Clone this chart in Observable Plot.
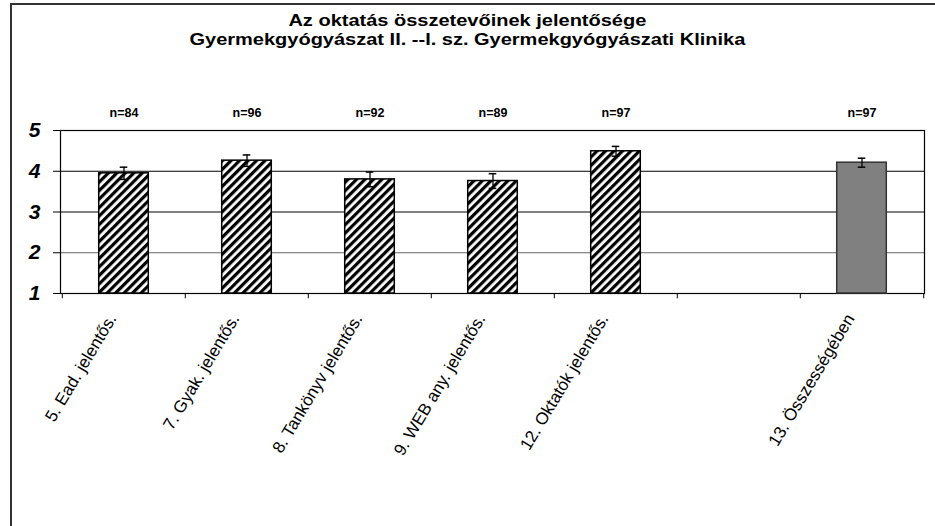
<!DOCTYPE html>
<html>
<head>
<meta charset="utf-8">
<script src="https://cdn.jsdelivr.net/npm/d3@7"></script>
<script src="https://cdn.jsdelivr.net/npm/@observablehq/plot@0.6"></script>
<style>
  html, body { margin: 0; padding: 0; background: #fff; overflow: hidden; }
  #wrap { position: relative; width: 935px; height: 526px; font-family: Arial, "Liberation Sans", sans-serif; }
  #frame { position: absolute; left: 10px; top: 3px; right: -5px; bottom: -5px; border-left: 2px solid #333; border-top: 2px solid #333; }
  #title { position: absolute; left: 0; width: 935px; top: 11px; text-align: center; font-weight: bold; font-size: 16px; line-height: 19px; color: #000; transform: scaleX(1.25); transform-origin: 468px 0; }
  #chart { position: absolute; left: 0; top: 50px; }
</style>
</head>
<body>
<div id="wrap">
  <div id="frame"></div>
  <div id="title">Az oktatás összetevőinek jelentősége<br>Gyermekgyógyászat II. --I. sz. Gyermekgyógyászati Klinika</div>
  <div id="chart"></div>
</div>
<script>
const categories = ["5. Ead. jelentős.", "7. Gyak. jelentős.", "8. Tankönyv jelentős.", "9. WEB any. jelentős.", "12. Oktatók jelentős.", "", "13. Összességében"];
const barCategories = ["5. Ead. jelentős.", "7. Gyak. jelentős.", "8. Tankönyv jelentős.", "9. WEB any. jelentős.", "12. Oktatók jelentős.", "13. Összességében"];
const values = [3.95, 4.26, 3.80, 3.76, 4.49, 4.21];
const errors = [0.15, 0.14, 0.18, 0.18, 0.12, 0.11];
const nLabels = ["n=84", "n=96", "n=92", "n=89", "n=97", "n=97"];
const styles = ["hatch", "hatch", "hatch", "hatch", "hatch", "solid"];
const yTicks = [1, 2, 3, 4, 5];
const gridValues = [2, 3, 4];

const data = barCategories.map((c, i) => ({cat: c, v: values[i], e: errors[i], n: nLabels[i], s: styles[i]}));

const W = 935, H = 476, ML = 60, MR = 11;
const step = (W - ML - MR) / categories.length;
const barW = 50;
const inset = (step - barW) / 2;
const capInset = (step - 8) / 2;

const plot = Plot.plot({
  width: W,
  height: H,
  marginLeft: ML,
  marginRight: MR,
  marginTop: 80,
  marginBottom: 233,
  style: {background: "transparent", fontFamily: "Arial, 'Liberation Sans', sans-serif", color: "#000"},
  x: {domain: categories, padding: 0, axis: null},
  y: {domain: [1, 5], axis: null},
  marks: [
    Plot.ruleY(gridValues, {stroke: d => d === 2 ? "#666" : "#000", strokeWidth: 1}),
    Plot.frame({stroke: "#000", strokeWidth: 1.2}),
    Plot.ruleX(categories, {x: d => d, dx: -step / 2, y1: 1, y2: 0.87, stroke: "#000"}),
    Plot.ruleX(categories.slice(-1), {x: d => d, dx: step / 2, y1: 1, y2: 0.87, stroke: "#000"}),
    Plot.axisY({ticks: yTicks, tickFormat: d => String(d), label: null, tickSize: 7, tickPadding: 13, fontSize: 21, fontWeight: "bold", fontStyle: "italic", stroke: "#000"}),
    Plot.barY(data.filter(d => d.s === "hatch"), {x: "cat", y1: 1, y2: "v", fill: "url(#hatch)", stroke: "#000", strokeWidth: 1.5, insetLeft: inset, insetRight: inset}),
    Plot.barY(data.filter(d => d.s === "solid"), {x: "cat", y1: 1, y2: "v", fill: "#808080", stroke: "#333", strokeWidth: 1.5, insetLeft: inset, insetRight: inset}),
    Plot.ruleX(data, {x: "cat", y1: d => d.v - d.e, y2: d => d.v + d.e, stroke: "#000", strokeWidth: 1.3}),
    Plot.tickY(data, {x: "cat", y: d => d.v + d.e, stroke: "#000", strokeWidth: 1.5, insetLeft: capInset, insetRight: capInset}),
    Plot.tickY(data, {x: "cat", y: d => d.v - d.e, stroke: "#000", strokeWidth: 1.5, insetLeft: capInset, insetRight: capInset}),
    Plot.text(data, {x: "cat", y: 5, dy: -18, text: "n", fontSize: 12.5, fontWeight: "bold", fill: "#000"}),
    Plot.text(data, {x: "cat", frameAnchor: "bottom", dy: 25, dx: -7, rotate: -59, textAnchor: "end", text: "cat", fontSize: 17, fill: "#000"})
  ]
});

const ns = "http://www.w3.org/2000/svg";
const defs = document.createElementNS(ns, "defs");
const pat = document.createElementNS(ns, "pattern");
pat.setAttribute("id", "hatch");
pat.setAttribute("patternUnits", "userSpaceOnUse");
pat.setAttribute("width", "6");
pat.setAttribute("height", "6");
pat.setAttribute("patternTransform", "rotate(45)");
const bg = document.createElementNS(ns, "rect");
bg.setAttribute("width", "6"); bg.setAttribute("height", "6"); bg.setAttribute("fill", "#fff");
const st = document.createElementNS(ns, "rect");
st.setAttribute("width", "3.2"); st.setAttribute("height", "6"); st.setAttribute("fill", "#000");
pat.appendChild(bg); pat.appendChild(st); defs.appendChild(pat);
plot.insertBefore(defs, plot.firstChild);

document.getElementById("chart").appendChild(plot);
</script>
</body>
</html>
